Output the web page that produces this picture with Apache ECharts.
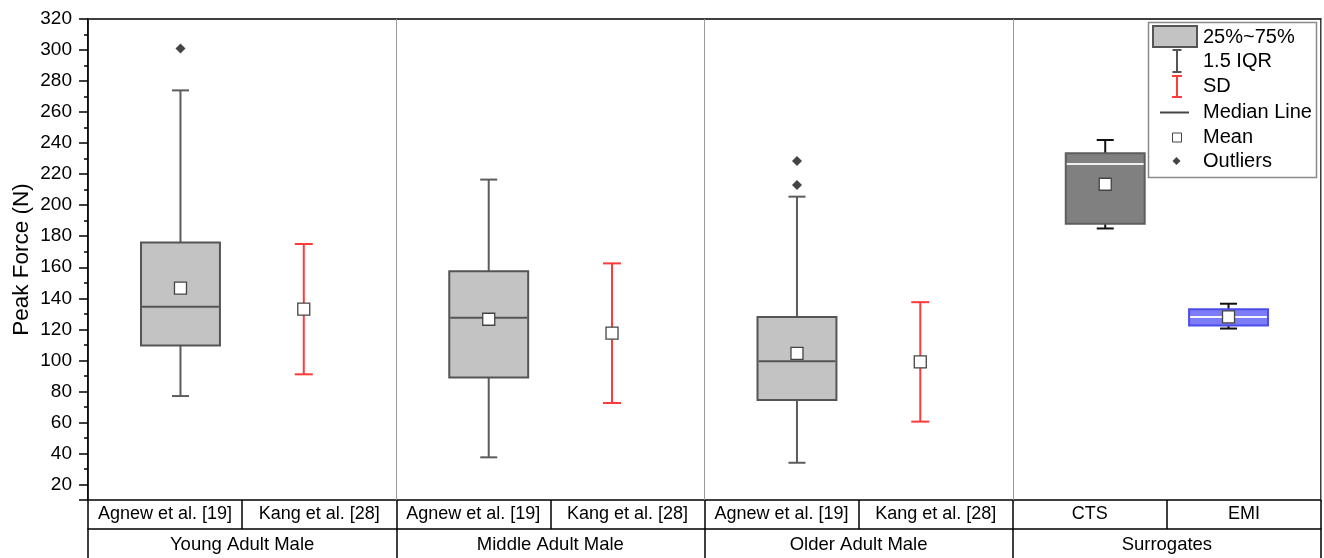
<!DOCTYPE html>
<html>
<head>
<meta charset="utf-8">
<script src="https://cdn.jsdelivr.net/npm/echarts@6/dist/echarts.min.js"></script>
<style>
  html, body { margin: 0; padding: 0; background: #fff; }
  #chart { width: 1324px; height: 558px; }
</style>
</head>
<body>
<div id="chart"></div>
<script>
// ---- data ----
const subCategories = ['Agnew et al. [19]', 'Kang et al. [28]', 'Agnew et al. [19]', 'Kang et al. [28]',
                       'Agnew et al. [19]', 'Kang et al. [28]', 'CTS', 'EMI'];
const groupNames = ['Young Adult Male', 'Middle Adult Male', 'Older Adult Male', 'Surrogates'];
const yTickLabels = [20, 40, 60, 80, 100, 120, 140, 160, 180, 200, 220, 240, 260, 280, 300, 320];

// box-and-whisker summaries (index into subCategories)
const boxIndex    = [0, 2, 4, 6, 7];
const whiskerLow  = [77, 37.5, 34, 185, 120.5];
const quartile1   = [109.5, 89, 74.5, 188, 122.5];
const median      = [134.5, 127.5, 99.5, 226.5, 128];
const quartile3   = [176, 157.5, 128, 233.5, 133];
const whiskerHigh = [274, 216.5, 205.5, 242, 136.5];
const boxMean     = [146.5, 126.5, 104.5, 213.5, 128];

// outliers (index into subCategories, value)
const outlierIndex = [0, 4, 4];
const outlierValue = [301, 228.5, 213];

// mean +/- SD (index into subCategories)
const sdIndex = [1, 3, 5];
const sdMean  = [133, 117.5, 99];
const sdValue = [42, 45, 38.5];

const legendLabels = ['25%~75%', '1.5 IQR', 'SD', 'Median Line', 'Mean', 'Outliers'];

// ---- layout helpers ----
const FONT = "'Liberation Sans', Arial, sans-serif";
const GROUP_SPAN = 2.5;           // each group occupies 2.5 units on the x value axis
const BOX_WIDTH = 0.64;           // box width in x units
const CAP_PX = 17;
const SD_CAP_PX = 18;

function slotX(c) {
  return Math.floor(c / 2) * GROUP_SPAN + 0.75 + (c % 2);
}

const boxLooks = {
  'Agnew et al. [19]': { fill: '#c3c3c3', border: '#555555', median: '#555555', whisker: '#5c5c5c' },
  'CTS': { fill: '#808080', border: '#5e5e5e', median: '#f0f0f0', whisker: '#111111' },
  'EMI': { fill: '#7c7cf6', border: '#4d4dec', median: '#f4f4ff', whisker: '#111111' }
};

const boxData = boxIndex.map((c, k) => [slotX(c), whiskerLow[k], quartile1[k], median[k], quartile3[k], whiskerHigh[k], c]);
const sdData = sdIndex.map((c, k) => [slotX(c), sdMean[k] - sdValue[k], sdMean[k] + sdValue[k]]);
const meanData = boxIndex.map((c, k) => [slotX(c), boxMean[k]])
  .concat(sdIndex.map((c, k) => [slotX(c), sdMean[k]]));
const outlierData = outlierIndex.map((c, k) => [slotX(c), outlierValue[k]]);

function hLine(x1, x2, y, stroke, w) {
  return { type: 'line', shape: { x1, y1: y, x2, y2: y }, style: { stroke, lineWidth: w } };
}
function vLine(x, y1, y2, stroke, w) {
  return { type: 'line', shape: { x1: x, y1, x2: x, y2 }, style: { stroke, lineWidth: w } };
}

function renderBox(params, api) {
  const x = api.value(0);
  const look = boxLooks[subCategories[api.value(6)]];
  const low = api.coord([x, api.value(1)]);
  const q1 = api.coord([x, api.value(2)]);
  const med = api.coord([x, api.value(3)]);
  const q3 = api.coord([x, api.value(4)]);
  const high = api.coord([x, api.value(5)]);
  const bw = api.size([BOX_WIDTH, 0])[0];
  const cx = low[0];
  return {
    type: 'group',
    children: [
      vLine(cx, high[1], low[1], look.whisker, 2),
      hLine(cx - CAP_PX / 2, cx + CAP_PX / 2, high[1], look.whisker, 2),
      hLine(cx - CAP_PX / 2, cx + CAP_PX / 2, low[1], look.whisker, 2),
      {
        type: 'rect',
        shape: { x: cx - bw / 2, y: q3[1], width: bw, height: q1[1] - q3[1] },
        style: { fill: look.fill, stroke: look.border, lineWidth: 2 }
      },
      hLine(cx - bw / 2 + 1, cx + bw / 2 - 1, med[1], look.median, 2)
    ]
  };
}

function renderSD(params, api) {
  const x = api.value(0);
  const lo = api.coord([x, api.value(1)]);
  const hi = api.coord([x, api.value(2)]);
  const cx = lo[0];
  const red = '#ff3a3a';
  return {
    type: 'group',
    children: [
      vLine(cx, hi[1], lo[1], red, 2),
      hLine(cx - SD_CAP_PX / 2, cx + SD_CAP_PX / 2, hi[1], red, 2),
      hLine(cx - SD_CAP_PX / 2, cx + SD_CAP_PX / 2, lo[1], red, 2)
    ]
  };
}

// ---- legend (drawn as graphics in the upper right) ----
const LX = 1177, TX = 1203;
const rowY = [37.5, 61.5, 86, 112.5, 137.5, 161];
const legendGraphics = [
  { type: 'rect', shape: { x: 1148.5, y: 22.5, width: 168, height: 155 },
    style: { fill: '#fff', stroke: '#8a8a8a', lineWidth: 1.5 } },
  { type: 'rect', shape: { x: 1153, y: 26, width: 44, height: 21 },
    style: { fill: '#c3c3c3', stroke: '#555', lineWidth: 2 } },
  vLine(LX, 50, 72, '#555', 2), hLine(LX - 4.5, LX + 4.5, 50, '#555', 2), hLine(LX - 4.5, LX + 4.5, 72, '#555', 2),
  vLine(LX, 76, 97, '#ff3a3a', 2), hLine(LX - 5, LX + 5, 76, '#ff3a3a', 2), hLine(LX - 5, LX + 5, 97, '#ff3a3a', 2),
  hLine(1160, 1189, 112.5, '#444', 2),
  { type: 'rect', shape: { x: 1172.5, y: 133, width: 9, height: 9 },
    style: { fill: '#fff', stroke: '#444', lineWidth: 1 } },
  { type: 'polygon', shape: { points: [[1176.5, 157], [1180.5, 161], [1176.5, 165], [1172.5, 161]] },
    style: { fill: '#444' } }
].concat(legendLabels.map((t, i) => ({
  type: 'text', x: TX, y: rowY[i],
  style: { text: t, fill: '#000', font: '20px ' + FONT, verticalAlign: 'middle', align: 'left' }
})));
legendGraphics.forEach(g => { g.z = 100; });

const chart = echarts.init(document.getElementById('chart'), null, { renderer: 'canvas' });

chart.setOption({
  animation: false,
  backgroundColor: '#fff',
  textStyle: { fontFamily: FONT },
  grid: {
    left: 88, right: 3, top: 19, bottom: 58,
    containLabel: false, outerBoundsMode: 'none',
    show: true, borderColor: '#000', borderWidth: 1.5
  },
  xAxis: [
    {
      type: 'value', min: 0, max: 10, interval: GROUP_SPAN, position: 'bottom',
      axisLine: { show: false }, axisTick: { show: false }, axisLabel: { show: false },
      splitLine: { show: true, lineStyle: { color: '#9a9a9a', width: 1 } }
    },
    {
      type: 'category', data: subCategories, position: 'bottom', offset: 0,
      axisLine: { show: false },
      axisTick: { show: true, length: 29, alignWithLabel: false, lineStyle: { color: '#000', width: 1.5 } },
      axisLabel: { fontSize: 18, color: '#000', margin: 14.5, verticalAlign: 'middle', interval: 0, fontFamily: FONT },
      splitLine: { show: false }
    },
    {
      type: 'category', data: groupNames, position: 'bottom', offset: 29,
      axisLine: { show: true, lineStyle: { color: '#000', width: 1.5 } },
      axisTick: { show: true, length: 29, alignWithLabel: false, lineStyle: { color: '#000', width: 1.5 } },
      axisLabel: { fontSize: 18.5, color: '#000', margin: 16, verticalAlign: 'middle', interval: 0, fontFamily: FONT },
      splitLine: { show: false }
    }
  ],
  yAxis: [
    {
      type: 'value', min: 10, max: 320, interval: 10, position: 'left',
      name: 'Peak Force (N)', nameLocation: 'middle', nameGap: 55, nameRotate: 90,
      nameMoveOverlap: false,
      nameTextStyle: { fontSize: 22.5, color: '#000', fontFamily: FONT },
      axisLine: { show: true, lineStyle: { color: '#000', width: 1.5 } },
      axisTick: { show: true, length: 4, lineStyle: { color: '#000', width: 1.5 } },
      axisLabel: {
        fontSize: 19, color: '#000', margin: 16, fontFamily: FONT,
        formatter: v => (yTickLabels.includes(v) ? String(v) : '')
      },
      splitLine: { show: false }
    },
    {
      type: 'value', min: 10, max: 320, splitNumber: 15, position: 'left',
      axisLine: { show: false },
      axisTick: { show: true, length: 9, lineStyle: { color: '#000', width: 1.5 } },
      axisLabel: { show: false },
      splitLine: { show: false }
    }
  ],
  series: [
    {
      name: 'Box', type: 'custom', xAxisIndex: 0, yAxisIndex: 0,
      renderItem: renderBox, data: boxData, z: 3,
      encode: { x: 0, y: [1, 5] }
    },
    {
      name: 'SD', type: 'custom', xAxisIndex: 0, yAxisIndex: 0,
      renderItem: renderSD, data: sdData, z: 3,
      encode: { x: 0, y: [1, 2] }
    },
    {
      name: 'Mean', type: 'scatter', xAxisIndex: 0, yAxisIndex: 0, data: meanData, z: 5,
      symbol: 'rect', symbolSize: 12,
      itemStyle: { color: '#fff', borderColor: '#444', borderWidth: 1.3, opacity: 1 }
    },
    {
      name: 'Outliers', type: 'scatter', xAxisIndex: 0, yAxisIndex: 0, data: outlierData, z: 5,
      symbol: 'diamond', symbolSize: [10, 10],
      itemStyle: { color: '#444', opacity: 1 }
    }
  ],
  graphic: legendGraphics
});
</script>
</body>
</html>
